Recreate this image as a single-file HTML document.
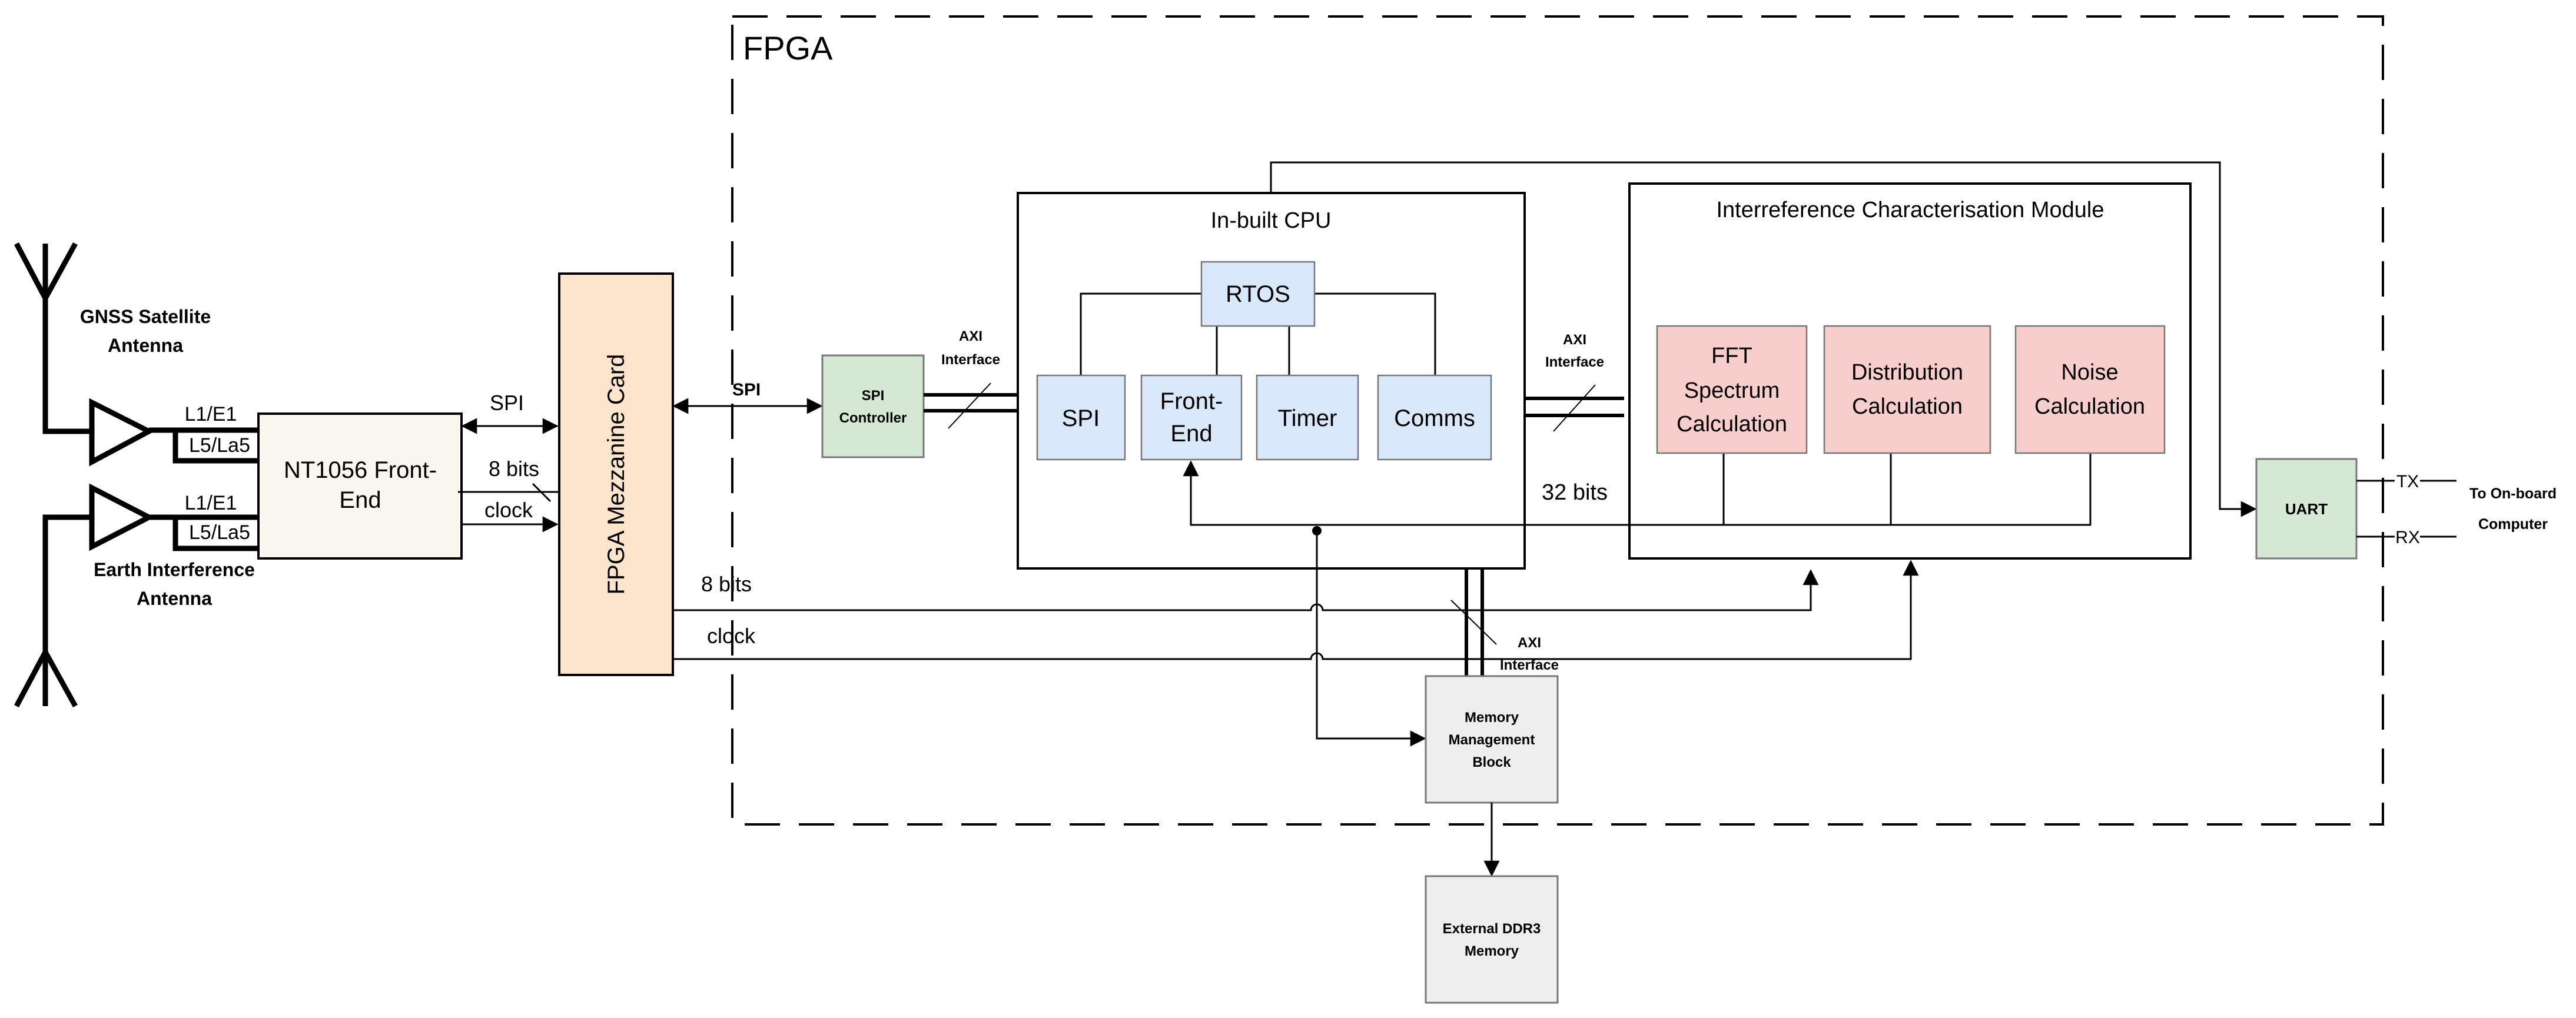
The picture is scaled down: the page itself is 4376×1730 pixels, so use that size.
<!DOCTYPE html>
<html><head><meta charset="utf-8"><style>html,body{margin:0;padding:0;background:#fff}svg{display:block}</style></head><body>
<svg width="4376" height="1730" viewBox="0 0 4376 1730" xmlns="http://www.w3.org/2000/svg" font-family="Liberation Sans, sans-serif">
<defs>
<marker id="b" viewBox="0 0 10 10" refX="9" refY="5" markerWidth="9" markerHeight="9" orient="auto-start-reverse"><path d="M0,0L10,5L0,10z" fill="#000"/></marker>
</defs>
<rect x="1244" y="28" width="2804" height="1373" fill="none" stroke="#000" stroke-width="4" stroke-dasharray="60,32"/>
<text x="1262" y="101" font-size="56">FPGA</text>

<g stroke="#000" stroke-width="9" fill="none">
<path d="M28,414L77,507L128,414M77,414V733H156"/>
<path d="M28,1200L77,1108L128,1200M77,1200V879H156"/>
<path d="M156,684L156,785L253,733Z"/>
<path d="M156,829L156,929L253,879Z"/>
<path d="M253,731H439M298,731V783H439"/>
<path d="M253,879H439M298,879V932H439"/>
</g>
<g font-size="34" text-anchor="middle">
<text x="358" y="715">L1/E1</text><text x="373" y="768">L5/La5</text>
<text x="358" y="866">L1/E1</text><text x="373" y="916">L5/La5</text>
</g>
<g font-size="32" font-weight="bold" text-anchor="middle">
<text x="247" y="549">GNSS Satellite</text><text x="247" y="598">Antenna</text>
<text x="296" y="979">Earth Interference</text><text x="296" y="1028">Antenna</text>
</g>

<rect x="439" y="703" width="345" height="246" fill="#f9f6ee" stroke="#000" stroke-width="4"/>
<text x="612" y="812" font-size="40" text-anchor="middle">NT1056 Front-</text>
<text x="612" y="863" font-size="40" text-anchor="middle">End</text>

<g stroke="#000" stroke-width="3" fill="none">
<line x1="786" y1="724" x2="946" y2="724" marker-start="url(#b)" marker-end="url(#b)"/>
<line x1="778" y1="836" x2="950" y2="836"/>
<line x1="905" y1="822" x2="935" y2="852"/>
<line x1="784" y1="891" x2="946" y2="891" marker-end="url(#b)"/>
</g>
<g font-size="36" text-anchor="middle">
<text x="861" y="697">SPI</text><text x="873" y="809">8 bits</text><text x="864" y="879">clock</text>
</g>

<rect x="950" y="465" width="193" height="682" fill="#fde4cd" stroke="#000" stroke-width="4"/>
<text transform="translate(1060,806) rotate(-90)" font-size="40" text-anchor="middle">FPGA Mezzanine Card</text>

<line x1="1145" y1="690" x2="1395" y2="690" stroke="#000" stroke-width="3" marker-start="url(#b)" marker-end="url(#b)"/>
<text x="1268" y="672" font-size="30" font-weight="bold" text-anchor="middle">SPI</text>

<rect x="1397" y="604" width="172" height="173" fill="#d5e8d4" stroke="#777" stroke-width="3"/>
<g font-size="24" font-weight="bold" text-anchor="middle"><text x="1483" y="680">SPI</text><text x="1483" y="718">Controller</text></g>

<g stroke="#000" fill="none">
<path d="M1569,671H1729M1569,698H1729" stroke-width="6"/>
<line x1="1611" y1="728" x2="1683" y2="651" stroke-width="2"/>
</g>
<g font-size="24" font-weight="bold" text-anchor="middle"><text x="1649" y="579">AXI</text><text x="1649" y="619">Interface</text></g>

<rect x="1729" y="328" width="861" height="638" fill="#fff" stroke="#000" stroke-width="4"/>
<text x="2159" y="387" font-size="38" text-anchor="middle">In-built CPU</text>
<g stroke="#000" stroke-width="3" fill="none">
<path d="M2041,499H1836V638M2233,499H2438V638M2067,554V638M2190,554V638"/>
</g>
<g fill="#dae8fc" stroke="#777" stroke-width="2.5">
<rect x="2041" y="445" width="192" height="109"/>
<rect x="1762" y="638" width="149" height="143"/>
<rect x="1939" y="638" width="170" height="143"/>
<rect x="2135" y="638" width="172" height="143"/>
<rect x="2341" y="638" width="192" height="143"/>
</g>
<g font-size="40" text-anchor="middle">
<text x="2137" y="513">RTOS</text>
<text x="1836" y="724">SPI</text>
<text x="2024" y="695">Front-</text><text x="2024" y="750">End</text>
<text x="2221" y="724">Timer</text>
<text x="2437" y="724">Comms</text>
</g>

<g stroke="#000" stroke-width="3" fill="none">
<path d="M3551,770V892H2023V785" marker-end="url(#b)"/>
<path d="M2928,770V892M3212,770V892"/>
<path d="M2159,328V276H3771V865H3831" marker-end="url(#b)"/>
</g>
<circle cx="2237" cy="902" r="8" fill="#000"/>
<path d="M2237,902V1255H2420" stroke="#000" stroke-width="3" fill="none" marker-end="url(#b)"/>

<g stroke="#000" stroke-width="3" fill="none">
<path d="M1143,1037H2227a10,10 0 0 1 20,0H3076V970" marker-end="url(#b)"/>
<path d="M1143,1120H2227a10,10 0 0 1 20,0H3246V954" marker-end="url(#b)"/>
</g>
<g font-size="36" text-anchor="middle"><text x="1234" y="1005">8 bits</text><text x="1242" y="1093">clock</text></g>

<g stroke="#000" fill="none">
<path d="M2590,677H2759M2590,706H2759" stroke-width="6"/>
<line x1="2639" y1="733" x2="2710" y2="654" stroke-width="2"/>
</g>
<g font-size="24" font-weight="bold" text-anchor="middle"><text x="2675" y="585">AXI</text><text x="2675" y="623">Interface</text></g>
<text x="2675" y="849" font-size="38" text-anchor="middle">32 bits</text>

<rect x="2768" y="312" width="953" height="637" fill="none" stroke="#000" stroke-width="4"/>
<text x="3245" y="369" font-size="38" text-anchor="middle">Interreference Characterisation Module</text>
<g fill="#f8cecc" stroke="#777" stroke-width="2.5">
<rect x="2815" y="554" width="254" height="216"/>
<rect x="3099" y="554" width="282" height="216"/>
<rect x="3424" y="554" width="253" height="216"/>
</g>
<g font-size="38" text-anchor="middle">
<text x="2942" y="617">FFT</text><text x="2942" y="676">Spectrum</text><text x="2942" y="733">Calculation</text>
<text x="3240" y="645">Distribution</text><text x="3240" y="703">Calculation</text>
<text x="3550" y="645">Noise</text><text x="3550" y="703">Calculation</text>
</g>

<g stroke="#000" fill="none">
<path d="M2491,966V1149M2518,966V1149" stroke-width="6"/>
<line x1="2465" y1="1020" x2="2542" y2="1095" stroke-width="2"/>
</g>
<g font-size="24" font-weight="bold" text-anchor="middle"><text x="2598" y="1100">AXI</text><text x="2598" y="1138">Interface</text></g>

<rect x="2422" y="1149" width="224" height="215" fill="#eeeeee" stroke="#777" stroke-width="3"/>
<g font-size="24" font-weight="bold" text-anchor="middle"><text x="2534" y="1227">Memory</text><text x="2534" y="1265">Management</text><text x="2534" y="1303">Block</text></g>
<line x1="2534" y1="1364" x2="2534" y2="1487" stroke="#000" stroke-width="3" marker-end="url(#b)"/>
<rect x="2422" y="1489" width="224" height="215" fill="#eeeeee" stroke="#777" stroke-width="3"/>
<g font-size="24" font-weight="bold" text-anchor="middle"><text x="2534" y="1586">External DDR3</text><text x="2534" y="1624">Memory</text></g>

<rect x="3833" y="780" width="170" height="169" fill="#d5e8d4" stroke="#777" stroke-width="3"/>
<text x="3918" y="874" font-size="26" font-weight="bold" text-anchor="middle">UART</text>
<g stroke="#000" stroke-width="3"><path d="M4003,817H4068M4111,817H4173M4003,912H4068M4111,912H4173"/></g>
<g font-size="30" text-anchor="middle"><text x="4090" y="828">TX</text><text x="4090" y="923">RX</text></g>
<g font-size="25" font-weight="bold" text-anchor="middle"><text x="4269" y="847">To On-board</text><text x="4269" y="899">Computer</text></g>
</svg>
</body></html>
